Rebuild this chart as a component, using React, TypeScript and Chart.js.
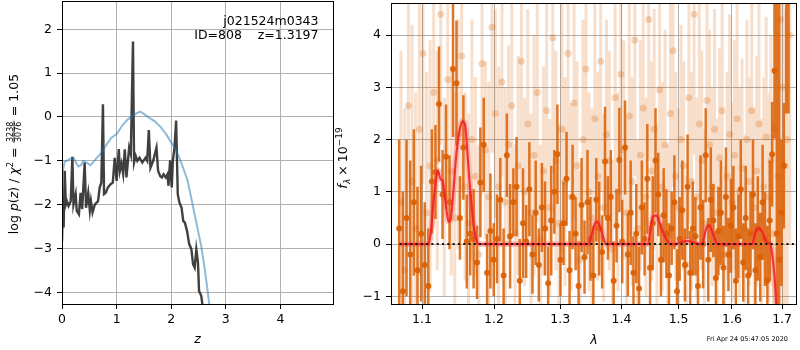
import React, { useEffect, useRef } from 'react';
import { Chart, registerables } from 'chart.js';
Chart.register(...registerables);

const FONT = "'DejaVu Sans', sans-serif";
Chart.defaults.font.family = FONT;
Chart.defaults.color = '#000';

// ---------------- left panel: log p(z) ----------------
const zTicks = [0, 1, 2, 3, 4];
const logpTicks = [-4, -3, -2, -1, 0, 1, 2];

const zBlack = [
  0.0, 0.02, 0.03, 0.05, 0.07, 0.09, 0.12, 0.16, 0.19, 0.21,
  0.25, 0.27, 0.31, 0.34, 0.37, 0.415, 0.44, 0.48, 0.51, 0.53,
  0.56, 0.6, 0.66, 0.69, 0.72, 0.75, 0.77, 0.8, 0.84, 0.885,
  0.93, 0.965, 1.0, 1.04, 1.06, 1.09, 1.12, 1.15, 1.18, 1.23,
  1.26, 1.3, 1.32, 1.35, 1.38, 1.42, 1.47, 1.53, 1.56, 1.59,
  1.62, 1.67, 1.73, 1.76, 1.8, 1.83, 1.86, 1.9, 1.93, 1.95,
  1.98, 2.01, 2.03, 2.06, 2.09, 2.12, 2.15, 2.19, 2.22, 2.25,
  2.29, 2.33, 2.37, 2.4, 2.43, 2.46, 2.49, 2.51, 2.55, 2.58,
];
const logpBlack = [
  -2.83, -1.84, -2.52, -1.23, -2.0, -1.92, -2.03, -1.92, -0.91, -2.0,
  -1.76, -2.14, -2.22, -1.73, -2.1, -1.04, -2.07, -1.73, -2.14, -1.92,
  -2.18, -2.0, -1.92, -1.61, -1.5, 0.29, -1.76, -1.73, -1.61, -1.54,
  -1.5, -0.93, -1.46, -0.73, -1.23, -1.06, -1.3, -0.74, -1.38, -0.7,
  -0.85, 1.72, -1.04, -0.89, -1.0, -0.93, -1.04, -0.93, -1.0, -0.3,
  -1.16, -1.0, -0.7, -1.23, -1.35, -1.38, -1.31, -1.38, -1.31, -1.57,
  -0.99, -1.61, -1.0, -0.7, -0.08, -1.76, -1.95, -2.07, -2.37, -2.41,
  -2.6, -2.9, -3.02, -3.36, -3.44, -3.02, -3.32, -3.97, -4.08, -4.35,
];
const zBlue = [
  0.0, 0.02, 0.05, 0.09, 0.15, 0.21, 0.26, 0.3, 0.35, 0.39,
  0.45, 0.52, 0.58, 0.64, 0.7, 0.8, 0.9, 1.0, 1.1, 1.2,
  1.3, 1.36, 1.43, 1.5, 1.6, 1.7, 1.8, 1.9, 2.0, 2.1,
  2.2, 2.3, 2.4, 2.5, 2.55, 2.6, 2.65, 2.7, 2.75,
];
const logpBlue = [
  -1.6, -1.2, -1.02, -1.0, -0.95, -0.93, -1.05, -1.13, -1.1, -1.0,
  -1.04, -1.1, -1.02, -0.93, -0.85, -0.66, -0.48, -0.39, -0.2, -0.06,
  0.03, 0.08, 0.12, 0.07, -0.02, -0.1, -0.22, -0.38, -0.58, -0.78,
  -1.1, -1.45, -2.05, -2.65, -2.95, -3.35, -3.8, -4.3, -4.8,
];

// ---------------- right panel: spectrum ----------------
const lamTicks = [1.1, 1.2, 1.3, 1.4, 1.5, 1.6, 1.7];
const fluxTicks = [-1, 0, 1, 2, 3, 4];
const lamStep = 0.0048;
const lamDark = Array.from({ length: 135 }, (_, i) => +(1.07 + lamStep * i).toFixed(4));
const lamLight = Array.from({ length: 135 }, (_, i) => +(1.0724 + lamStep * i).toFixed(4));

const darkFlux = [
  0.3, -0.9, 0.5, -0.2, 0.8, -0.5, 0.2, -0.4, -0.8, 1.2,
  1.38, 2.68, 0.95, 1.67, 0.8, 3.35, 3.08, 0.5, 1.85, 0.05,
  0.2, 0.1, -0.35, 1.18, 1.9, -0.55, 0.25, -0.3, 0.1, 0.85,
  -0.6, 1.7, 0.15, 0.8, 1.1, -0.7, 0.4, 0.05, 1.05, -0.2,
  0.6, -0.4, 0.7, 0.3, -0.75, 0.45, 1.0, 1.72, -0.3, 0.4,
  1.25, -0.5, 0.9, 0.2, -0.8, 0.75, -0.25, 0.8, 0.1, -0.6,
  0.85, 0.3, -0.15, 1.58, 0.5, 0.9, -0.7, 0.35, 1.61, 0.05,
  1.85, -0.2, 0.6, -0.55, 0.2, -0.85, 0.7, 0.1, 1.25, -0.45,
  0.4, 1.6, 0.95, -0.3, 0.55, 0.2, -0.6, 0.3, 0.8, -0.9,
  0.1, 0.65, -0.4, 1.1, -0.55, 0.3, 0.15, -0.8, 0.7, 0.0,
  1.7, -0.3, 0.85, 0.45, -0.65, 0.25, 0.6, -0.45, 0.9, -0.2,
  0.35, 0.7, -0.7, 0.15, 1.05, -0.35, 0.5, -0.6, 0.2, 0.95,
  -0.5, 0.3, -0.25, 0.8, 0.1, -0.7, 0.45, 1.72, 3.32, 0.2,
  -0.3, 0.6, 1.5, 5.3, 5.2,
];
const darkErr = [
  1.7, 1.9, 1.5, 1.8, 1.4, 1.6, 1.3, 1.2, 1.1, 1.0,
  0.9, 1.1, 0.85, 1.0, 0.9, 1.3, 1.2, 0.8, 1.0, 0.9,
  0.8, 0.95, 0.7, 1.05, 0.9, 0.75, 1.1, 0.7, 0.85, 0.8,
  0.9, 0.8, 1.0, 0.65, 0.95, 0.8, 1.05, 0.7, 0.9, 0.75,
  1.0, 0.7, 0.85, 0.9, 0.7, 1.05, 0.8, 0.95, 0.7, 0.8,
  0.9, 0.75, 1.0, 0.7, 0.85, 0.9, 0.7, 1.0, 0.8, 0.95,
  0.8, 0.9, 0.7, 1.05, 0.8, 0.9, 0.75, 0.7, 1.0, 0.8,
  0.9, 0.8, 1.0, 0.7, 0.95, 0.8, 0.9, 0.7, 1.05, 0.8,
  0.9, 1.0, 0.8, 0.7, 0.9, 0.85, 1.0, 0.7, 0.9, 0.8,
  0.8, 0.95, 0.7, 1.0, 0.8, 0.9, 0.75, 0.8, 1.0, 0.85,
  0.9, 0.8, 1.0, 0.7, 0.9, 0.85, 1.0, 0.8, 0.95, 0.7,
  0.9, 0.8, 1.0, 0.8, 0.95, 0.75, 1.0, 0.9, 0.8, 1.05,
  0.9, 1.0, 0.85, 1.1, 0.9, 1.05, 1.15, 1.0, 1.3, 5.0,
  5.0, 1.4, 1.2, 2.8, 2.7,
];
const lightFlux = [
  0.8, -0.5, 2.65, 1.2, 0.3, 2.2, 3.65, 0.6, 1.5, 2.9,
  1.6, 4.4, 0.9, 3.15, 1.4, 0.5, 2.1, 3.6, 1.1, 0.4,
  2.0, 1.3, -0.2, 3.45, 1.8, 0.9, 4.15, 2.5, 1.1, 3.1,
  0.8, 1.9, 2.65, 0.2, 1.5, 3.5, 1.0, 2.3, 0.6, 1.7,
  2.9, 0.1, 1.4, 2.55, 0.7, 3.95, 1.6, 0.4, 2.2, 1.2,
  3.65, 0.9, 2.7, 1.5, -0.3, 2.0, 3.35, 1.0, 0.5, 2.4,
  1.3, 3.5, 0.7, 2.1, 1.6, -0.1, 2.8, 1.0, 3.25, 1.8,
  0.6, 2.45, 1.2, 3.9, 0.3, 1.7, 2.6, 0.9, 4.3, 1.4,
  2.2, 0.5, 2.95, 1.1, 1.9, 0.2, 2.5, 3.7, 1.3, 0.7,
  2.0, 1.5, -0.4, 2.8, 1.2, 4.4, 0.9, 2.3, 1.6, 0.4,
  2.75, 1.9, 1.1, 2.2, 0.6, 1.65, 2.55, -0.2, 1.3, 2.1,
  0.8, 1.7, 2.4, 1.0, 1.45, 0.3, 2.0, 1.2, 2.55, 0.7,
  1.4, 2.3, 0.5, 1.1, 2.05, 0.9, 1.6, 0.2, 2.2, 1.3,
  4.3, 3.0, 1.5, 2.0, 4.0,
];
const lightErr = [
  2.9, 3.1, 2.7, 3.0, 2.6, 2.8, 2.5, 2.7, 2.4, 2.6,
  2.1, 2.5, 1.9, 2.3, 2.0, 2.4, 2.2, 2.6, 1.8, 2.1,
  2.3, 1.9, 2.1, 2.5, 1.7, 2.2, 2.4, 2.0, 2.3, 1.8,
  2.2, 1.9, 2.4, 1.7, 2.1, 2.5, 1.8, 2.2, 1.9, 2.3,
  2.5, 1.8, 2.0, 2.3, 1.7, 2.6, 2.1, 1.9, 2.4, 2.0,
  2.4, 1.8, 2.2, 2.0, 1.7, 2.3, 2.5, 1.9, 2.1, 2.4,
  2.0, 2.5, 1.8, 2.2, 2.1, 1.7, 2.4, 1.9, 2.3, 2.1,
  1.8, 2.3, 2.0, 2.6, 1.7, 2.2, 2.4, 1.9, 2.7, 2.1,
  2.3, 1.8, 2.5, 2.0, 2.2, 1.7, 2.4, 2.6, 2.0, 1.9,
  2.2, 2.0, 1.7, 2.4, 2.1, 2.7, 1.9, 2.3, 2.1, 1.8,
  2.5, 2.2, 1.9, 2.3, 1.8, 2.1, 2.4, 1.7, 2.0, 2.3,
  1.9, 2.2, 2.4, 2.0, 2.1, 1.8, 2.3, 2.0, 2.5, 1.9,
  2.2, 2.4, 1.9, 2.1, 2.3, 2.0, 2.4, 2.1, 2.6, 2.8,
  5.0, 5.0, 3.0, 3.5, 4.0,
];

const modelLam = [
  1.0706, 1.09, 1.1088, 1.112, 1.1155, 1.1185, 1.1213, 1.1245, 1.128, 1.13,
  1.1321, 1.134, 1.1358, 1.138, 1.1403, 1.143, 1.1458, 1.149, 1.1519, 1.1551,
  1.1589, 1.1625, 1.165, 1.1673, 1.17, 1.1719, 1.1745, 1.1766, 1.18, 1.25,
  1.3, 1.3454, 1.349, 1.3524, 1.356, 1.3594, 1.363, 1.366, 1.37, 1.3742,
  1.4, 1.445, 1.449, 1.4537, 1.4607, 1.465, 1.4683, 1.473, 1.4771, 1.4845,
  1.495, 1.502, 1.51, 1.516, 1.522, 1.53, 1.5439, 1.547, 1.5501, 1.5564,
  1.5626, 1.567, 1.572, 1.6, 1.6397, 1.643, 1.6463, 1.6531, 1.6597, 1.665,
  1.6695, 1.676, 1.6794, 1.684, 1.688, 1.691,
];
const modelFlux = [
  0, 0, 0, 0.25, 0.84, 1.2, 1.41, 1.25, 1.19, 1.0,
  0.77, 0.55, 0.43, 0.45, 0.65, 1.1, 1.6, 2.0, 2.23, 2.35,
  2.27, 1.66, 1.2, 0.84, 0.45, 0.27, 0.08, 0.01, 0, 0,
  0, 0, 0.12, 0.27, 0.4, 0.43, 0.36, 0.27, 0.1, 0,
  0, 0, 0.2, 0.52, 0.55, 0.45, 0.33, 0.2, 0.11, 0,
  0, 0.03, 0.05, 0.06, 0.05, 0.02, 0, 0.12, 0.27, 0.36,
  0.23, 0.1, 0, 0, 0, 0.1, 0.23, 0.3, 0.23, 0.1,
  0.03, 0, -0.18, -0.56, -1.15, -1.6,
];
const zeroLam = [1.0706, 1.7288];
const zeroFlux = [0, 0];

// ---------------- helpers ----------------
const fmt = (v: number, d = 0) => (v < 0 ? '\u2212' : '') + Math.abs(v).toFixed(d);
const xy = (xs: number[], ys: number[]) => xs.map((x, i) => ({ x, y: ys[i] }));
const errSegs = (xs: number[], ys: number[], es: number[]) => {
  const out: any[] = [];
  xs.forEach((x, i) => {
    out.push({ x, y: ys[i] - es[i] }, { x, y: ys[i] + es[i] }, { x, y: null });
  });
  return out;
};

type Piece = { t?: string; f: string; dy?: number; frac?: [string, string]; gap?: number };
function drawRotated(ctx: CanvasRenderingContext2D, pieces: Piece[], bx: number, cy: number) {
  ctx.save();
  ctx.translate(bx, cy);
  ctx.rotate(-Math.PI / 2);
  ctx.textBaseline = 'alphabetic';
  ctx.textAlign = 'left';
  ctx.fillStyle = '#000';
  const widths = pieces.map((p) => {
    ctx.font = p.f;
    if (p.frac) return Math.max(ctx.measureText(p.frac[0]).width, ctx.measureText(p.frac[1]).width) + 3;
    return ctx.measureText(p.t || '').width + (p.gap || 0);
  });
  const total = widths.reduce((a, b) => a + b, 0);
  let x = -total / 2;
  pieces.forEach((p, i) => {
    ctx.font = p.f;
    if (p.frac) {
      const w = widths[i];
      const nw = ctx.measureText(p.frac[0]).width;
      const dw = ctx.measureText(p.frac[1]).width;
      ctx.fillText(p.frac[0], x + (w - nw) / 2, -4.8);
      ctx.fillText(p.frac[1], x + (w - dw) / 2, 3.8);
      ctx.fillRect(x + 0.5, -3.9, w - 1, 0.8);
    } else {
      ctx.fillText(p.t || '', x, p.dy || 0);
    }
    x += widths[i];
  });
  ctx.restore();
}

function frame(ctx: CanvasRenderingContext2D, a: any) {
  ctx.save();
  ctx.strokeStyle = '#000';
  ctx.lineWidth = 1;
  const l = Math.floor(a.left) + 0.5;
  const r = Math.floor(a.right) + 0.5;
  const t = Math.floor(a.top) - 0.5;
  const b = Math.floor(a.bottom) + 0.5;
  ctx.strokeRect(l, t, r - l, b - t);
  ctx.restore();
}

const N = `12.5px ${FONT}`;
const I = `italic 12.5px ${FONT}`;
const S = `8px ${FONT}`;
const SI = `italic 8.5px ${FONT}`;

// right canvas starts at this page x
const RX = 325;

const leftDeco = {
  id: 'leftDeco',
  afterDraw(chart: any) {
    const ctx = chart.ctx as CanvasRenderingContext2D;
    frame(ctx, chart.chartArea);
    ctx.save();
    ctx.fillStyle = '#000';
    ctx.font = N;
    ctx.textAlign = 'right';
    ctx.textBaseline = 'alphabetic';
    ctx.fillText('j021524m0343', 318.5, 24.5);
    ctx.fillText('ID=808    z=1.3197', 318.5, 39);
    ctx.textAlign = 'center';
    ctx.font = I;
    ctx.fillText('z', 197.5, 343);
    ctx.restore();
    drawRotated(ctx, [
      { t: 'log ', f: N },
      { t: 'p', f: I },
      { t: '(', f: N },
      { t: 'z', f: I },
      { t: ')', f: N },
      { t: ' / ', f: N },
      { t: '\u03c7', f: I },
      { t: '2', f: `8.5px ${FONT}`, dy: -5 },
      { t: ' = ', f: N },
      { frac: ['3238', '3076'], f: S },
      { t: ' = 1.05', f: N },
    ], 17.5, 154);
  },
};

const rightDeco = {
  id: 'rightDeco',
  afterDraw(chart: any) {
    const ctx = chart.ctx as CanvasRenderingContext2D;
    frame(ctx, chart.chartArea);
    ctx.save();
    ctx.fillStyle = '#000';
    ctx.font = I;
    ctx.textAlign = 'center';
    ctx.textBaseline = 'alphabetic';
    ctx.fillText('\u03bb', 594 - RX, 344);
    ctx.font = `6.5px ${FONT}`;
    ctx.textAlign = 'right';
    ctx.fillText('Fri Apr 24 05:47:05 2020', 788 - RX, 341);
    ctx.restore();
    drawRotated(ctx, [
      { t: 'f', f: I, gap: 0.5 },
      { t: '\u03bb', f: SI, dy: 3, gap: 3 },
      { t: '\u00d7', f: N, gap: 3 },
      { t: '10', f: N },
      { t: '\u221219', f: `9px ${FONT}`, dy: -5.5 },
    ], 347 - RX, 158);
  },
};

const tickFont = { family: FONT, size: 12.5 };
const gridOpts = { color: '#b0b0b0', lineWidth: 1, tickColor: '#000', tickLength: 5, drawTicks: true };

function LeftChart() {
  const ref = useRef<HTMLCanvasElement>(null);
  useEffect(() => {
    if (!ref.current) return;
    const chart = new Chart(ref.current, {
      type: 'line',
      data: {
        datasets: [
          {
            data: xy(zBlue, logpBlue),
            borderColor: 'rgba(31,119,180,0.5)',
            borderWidth: 2,
            pointRadius: 0,
            tension: 0,
            order: 1,
            clip: 0 as any,
          },
          {
            data: xy(zBlack, logpBlack),
            borderColor: 'rgba(30,30,30,0.85)',
            borderWidth: 2.4,
            pointRadius: 0,
            tension: 0,
            order: 2,
            clip: 0 as any,
          },
        ],
      },
      options: {
        responsive: false,
        maintainAspectRatio: false,
        animation: false,
        events: [],
        layout: { padding: { left: 0, right: 7, top: 2, bottom: 0 } },
        plugins: { legend: { display: false }, tooltip: { enabled: false } },
        scales: {
          x: {
            type: 'linear',
            min: 0,
            max: 4.963,
            bounds: 'data',
            afterBuildTicks: (s: any) => { s.ticks = zTicks.map((v) => ({ value: v })); },
            afterFit: (s: any) => { s.height = 46; s.paddingLeft = 0; s.paddingRight = 0; },
            grid: gridOpts,
            border: { display: false },
            ticks: { color: '#000', font: tickFont, padding: 3, maxRotation: 0, autoSkip: false, callback: (v: any) => fmt(Number(v)) },
          },
          y: {
            type: 'linear',
            min: -4.267,
            max: 2.623,
            bounds: 'data',
            afterBuildTicks: (s: any) => { s.ticks = logpTicks.map((v) => ({ value: v })); },
            afterFit: (s: any) => { s.width = 62; s.paddingTop = 0; s.paddingBottom = 0; },
            grid: gridOpts,
            border: { display: false },
            ticks: { color: '#000', font: tickFont, padding: 5, autoSkip: false, callback: (v: any) => fmt(Number(v)) },
          },
        },
      } as any,
      plugins: [leftDeco],
    });
    return () => chart.destroy();
  }, []);
  return <canvas ref={ref} width={340} height={350} style={{ position: 'absolute', left: 0, top: 0, width: 340, height: 350 }} />;
}

function RightChart() {
  const ref = useRef<HTMLCanvasElement>(null);
  useEffect(() => {
    if (!ref.current) return;
    const chart = new Chart(ref.current, {
      type: 'line',
      data: {
        datasets: [
          {
            data: errSegs(lamLight, lightFlux, lightErr),
            borderColor: 'rgba(217,95,2,0.2)',
            borderWidth: 3,
            borderCapStyle: 'butt',
            pointRadius: 0,
            spanGaps: false,
            order: 10,
            clip: 0 as any,
          },
          {
            data: xy(lamLight, lightFlux),
            showLine: false,
            pointRadius: 3.5,
            pointBorderWidth: 0,
            pointBackgroundColor: 'rgba(217,95,2,0.25)',
            order: 9,
            clip: 0 as any,
          },
          {
            data: errSegs(lamDark, darkFlux, darkErr),
            borderColor: 'rgba(217,95,2,0.85)',
            borderWidth: 2.5,
            borderCapStyle: 'butt',
            pointRadius: 0,
            spanGaps: false,
            order: 8,
            clip: 0 as any,
          },
          {
            data: xy(lamDark, darkFlux),
            showLine: false,
            pointRadius: 3,
            pointBorderWidth: 0,
            pointBackgroundColor: 'rgba(217,95,2,0.9)',
            order: 7,
            clip: 0 as any,
          },
          {
            data: xy(modelLam, modelFlux),
            borderColor: 'rgba(255,80,80,0.3)',
            borderWidth: 6,
            pointRadius: 0,
            cubicInterpolationMode: 'monotone',
            order: 6,
            clip: 0 as any,
          },
          {
            data: xy(modelLam, modelFlux),
            borderColor: 'rgba(238,30,30,0.85)',
            borderWidth: 2.2,
            pointRadius: 0,
            cubicInterpolationMode: 'monotone',
            order: 5,
            clip: 0 as any,
          },
          {
            data: xy(zeroLam, zeroFlux),
            borderColor: '#111',
            borderWidth: 2,
            borderDash: [2, 3.3],
            pointRadius: 0,
            order: 4,
            clip: 0 as any,
          },
        ],
      },
      options: {
        responsive: false,
        maintainAspectRatio: false,
        animation: false,
        events: [],
        layout: { padding: { left: 0, right: 1, top: 2, bottom: 0 } },
        plugins: { legend: { display: false }, tooltip: { enabled: false } },
        scales: {
          x: {
            type: 'logarithmic',
            min: 1.0595,
            max: 1.7288,
            bounds: 'data',
            z: 1,
            afterBuildTicks: (s: any) => { s.ticks = lamTicks.map((v) => ({ value: v })); },
            afterFit: (s: any) => { s.height = 46; s.paddingLeft = 0; s.paddingRight = 0; },
            grid: gridOpts,
            border: { display: false },
            ticks: { color: '#000', font: tickFont, padding: 3, maxRotation: 0, autoSkip: false, callback: (v: any) => Number(v).toFixed(1) },
          },
          y: {
            type: 'linear',
            min: -1.146,
            max: 4.595,
            bounds: 'data',
            z: 1,
            afterBuildTicks: (s: any) => { s.ticks = fluxTicks.map((v) => ({ value: v })); },
            afterFit: (s: any) => { s.width = 391 - RX; s.paddingTop = 0; s.paddingBottom = 0; },
            grid: gridOpts,
            border: { display: false },
            ticks: { color: '#000', font: tickFont, padding: 5, autoSkip: false, callback: (v: any) => fmt(Number(v)) },
          },
        },
      } as any,
      plugins: [rightDeco],
    });
    return () => chart.destroy();
  }, []);
  return <canvas ref={ref} width={800 - RX} height={350} style={{ position: 'absolute', left: RX, top: 0, width: 800 - RX, height: 350 }} />;
}

export default function App() {
  return (
    <div style={{ position: 'fixed', left: 0, top: 0, width: 800, height: 350, background: '#fff', overflow: 'hidden' }}>
      <LeftChart />
      <RightChart />
    </div>
  );
}
